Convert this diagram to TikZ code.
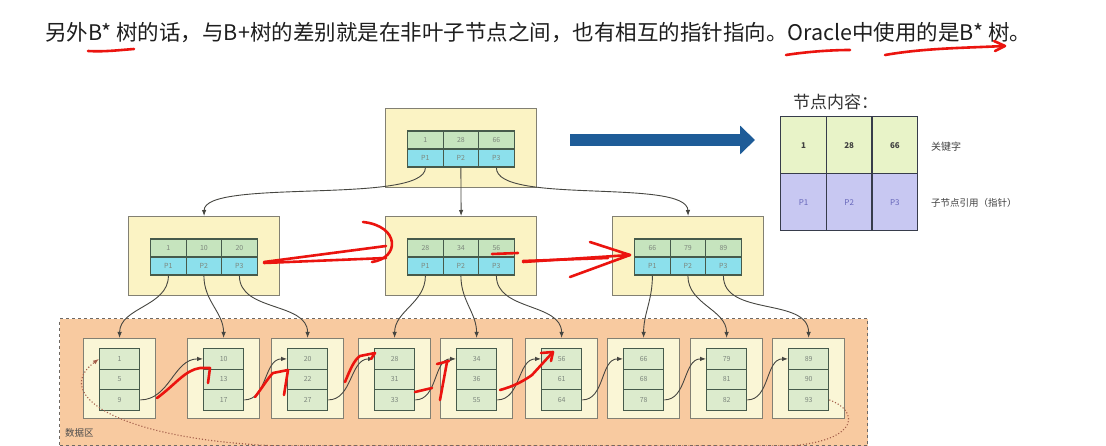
\documentclass[tikz,border=0pt]{standalone}
\usepackage{fontspec}
\setmainfont{Noto Sans CJK SC}
\usetikzlibrary{arrows.meta}

\definecolor{boxfill}{RGB}{251,243,196}
\definecolor{boxdraw}{RGB}{130,128,115}
\definecolor{keyfill}{RGB}{198,228,190}
\definecolor{ptrfill}{RGB}{140,224,236}
\definecolor{celldraw}{RGB}{70,90,75}
\definecolor{leaffill}{RGB}{250,246,214}
\definecolor{leafcell}{RGB}{220,235,205}
\definecolor{dataorange}{RGB}{248,202,160}
\definecolor{datadraw}{RGB}{110,105,100}
\definecolor{arrowblue}{RGB}{30,92,152}
\definecolor{legkey}{RGB}{232,243,200}
\definecolor{legptr}{RGB}{200,200,242}
\definecolor{legdraw}{RGB}{55,60,75}
\definecolor{annot}{RGB}{235,20,15}
\definecolor{connc}{RGB}{70,70,65}
\definecolor{loopc}{RGB}{165,95,75}
\definecolor{celltext}{RGB}{125,135,125}
\definecolor{maintext}{RGB}{30,30,30}

\tikzset{
  nbox/.style={draw=boxdraw, fill=boxfill, line width=1.2pt, anchor=north west,
    minimum width=151pt, minimum height=79pt, inner sep=0pt},
  kcell/.style={draw=celldraw, fill=keyfill, line width=1.3pt, anchor=north west,
    minimum width=35.5pt, minimum height=18pt, inner sep=0pt, text=celltext,
    font=\fontsize{7}{7}\selectfont},
  pcell/.style={kcell, fill=ptrfill},
  lbox/.style={draw=boxdraw, fill=leaffill, line width=1.2pt, anchor=north west,
    minimum width=72pt, minimum height=80pt, inner sep=0pt},
  lcell/.style={kcell, fill=leafcell, minimum width=40pt, minimum height=20.5pt},
  conn/.style={draw=connc, line width=0.9pt, -{Latex[length=6pt,width=4.5pt]}},
  redmark/.style={draw=annot, line width=2.6pt, line cap=round, line join=round},
  legk/.style={draw=legdraw, fill=legkey, line width=1.3pt, anchor=north west,
    minimum width=45.7pt, minimum height=57pt, inner sep=0pt,
    font=\fontsize{8}{8}\selectfont\bfseries, text=black!75},
  legp/.style={legk, fill=legptr, font=\fontsize{8}{8}\selectfont, text=black!45!blue!60},
}

\newcommand\treenode[6]{%
  \node[nbox] (#1) at (#2,#3) {};
  \node[kcell] (#1k1) at (#2+22,#3+22.5) {#4};
  \node[kcell] (#1k2) at (#2+57.5,#3+22.5) {#5};
  \node[kcell] (#1k3) at (#2+93,#3+22.5) {#6};
  \node[pcell] (#1p1) at (#2+22,#3+40.5) {P1};
  \node[pcell] (#1p2) at (#2+57.5,#3+40.5) {P2};
  \node[pcell] (#1p3) at (#2+93,#3+40.5) {P3};
}
\newcommand\leafnode[5]{%
  \node[lbox] (#1) at (#2,338) {};
  \node[lcell] (#1a) at (#2+16,348) {#3};
  \node[lcell] (#1b) at (#2+16,368.5) {#4};
  \node[lcell] (#1c) at (#2+16,389) {#5};
}

\begin{document}
\begin{tikzpicture}[x=1pt,y=-1pt]
\useasboundingbox (0,0) rectangle (1106,446);
\fill[white] (0,0) rectangle (1106,446);

% heading text
\node[anchor=west, inner sep=0pt, text=maintext, font=\fontsize{21.5}{21.5}\selectfont] (heading) at (45,33)
  {另外B* 树的话，与B+树的差别就是在非叶子节点之间，也有相互的指针指向。Oracle中使用的是B* 树。};
\draw[redmark] (88,51) .. controls (105,52) and (120,50) .. (134,49);
\draw[redmark] (786,55) .. controls (805,52) and (830,50) .. (850,50);
\draw[redmark] (885,55) .. controls (925,48) and (965,48) .. (1004,46);
\draw[redmark] (994,41) -- (1005,46) -- (995,51);

% data area
\node[draw=datadraw, dashed, line width=1.2pt, fill=dataorange, anchor=north west,
  minimum width=808pt, minimum height=127pt, inner sep=0pt] (data) at (59,318) {};
\node[anchor=west, inner sep=0pt, text=black!70, font=\fontsize{9.5}{9.5}\selectfont] (datalbl) at (65,433) {数据区};

% tree nodes
\treenode{R}{385}{108}{1}{28}{66}
\treenode{A}{128}{216}{1}{10}{20}
\treenode{B}{385}{216}{28}{34}{56}
\treenode{C}{612}{216}{66}{79}{89}

% leaves
\leafnode{La}{83}{1}{5}{9}
\leafnode{Lb}{187}{10}{13}{17}
\leafnode{Lc}{271}{20}{22}{27}
\leafnode{Ld}{358}{28}{31}{33}
\leafnode{Le}{440}{34}{36}{55}
\leafnode{Lf}{525}{56}{61}{64}
\leafnode{Lg}{607}{66}{68}{78}
\leafnode{Lh}{690}{79}{81}{82}
\leafnode{Li}{772}{89}{90}{93}

% root connectors
\draw[conn] (Rp1.south) .. controls (425,205) and (204,178) .. (A.north);
\draw[conn] (Rp2.south) -- (B.north);
\draw[conn] (Rp3.south) .. controls (496,205) and (687,178) .. (C.north);

% mid to leaves
\draw[conn] (Ap1.south) to[out=-90,in=90] (La.north);
\draw[conn] (Ap2.south) to[out=-90,in=90] (Lb.north);
\draw[conn] (Ap3.south) to[out=-90,in=90] (Lc.north);
\draw[conn] (Bp1.south) to[out=-90,in=90] (Ld.north);
\draw[conn] (Bp2.south) to[out=-90,in=90] (Le.north);
\draw[conn] (Bp3.south) to[out=-90,in=90] (Lf.north);
\draw[conn] (Cp1.south) to[out=-90,in=90] (Lg.north);
\draw[conn] (Cp2.south) to[out=-90,in=90] (Lh.north);
\draw[conn] (Cp3.south) to[out=-90,in=90] (Li.north);

% leaf chain
\draw[conn] (Lac.east) to[out=0,in=180] (Lba.west);
\draw[conn] (Lbc.east) to[out=0,in=180] (Lca.west);
\draw[conn] (Lcc.east) to[out=0,in=180] (Lda.west);
\draw[conn] (Ldc.east) to[out=0,in=180] (Lea.west);
\draw[conn] (Lec.east) to[out=0,in=180] (Lfa.west);
\draw[conn] (Lfc.east) to[out=0,in=180] (Lga.west);
\draw[conn] (Lgc.east) to[out=0,in=180] (Lha.west);
\draw[conn] (Lhc.east) to[out=0,in=180] (Lia.west);
\draw[loopc, dotted, line width=1.1pt, -{Latex[length=6pt,width=4.5pt]}]
  (Lic.east) .. controls (858,410) and (862,440) .. (790,446) -- (280,446)
  .. controls (120,440) and (50,395) .. (Laa.west);

% blue arrow
\coordinate (bluestart) at (570,140);
\coordinate (blueend) at (755,140);
\draw[arrowblue, line width=12pt, -{Triangle[length=15pt,width=28pt]}] (bluestart) -- (blueend);

% legend
\node[anchor=west, inner sep=0pt, text=black!80, font=\fontsize{17}{17}\selectfont] (legtitle) at (793,102) {节点内容：};
\node[legk] (g1) at (780,116) {1};
\node[legk] (g2) at (825.7,116) {28};
\node[legk] (g3) at (871.4,116) {66};
\node[legp] (h1) at (780,173) {P1};
\node[legp] (h2) at (825.7,173) {P2};
\node[legp] (h3) at (871.4,173) {P3};
\node[anchor=west, inner sep=0pt, text=black!75, font=\fontsize{10}{10}\selectfont] (lkey) at (931,147) {关键字};
\node[anchor=west, inner sep=0pt, text=black!75, font=\fontsize{9.5}{9.5}\selectfont] (lptr) at (931,203) {子节点引用（指针）};

% red annotations
\draw[redmark] (264,262) -- (386,246);
\draw[redmark] (264,263) -- (386,258);
\draw[redmark] (363,222) .. controls (400,226) and (400,258) .. (372,262);
\draw[redmark] (492,254) -- (518,253);
\draw[redmark] (523,262) -- (630,255);
\draw[redmark] (523,261) -- (608,258);
\draw[redmark] (590,242) -- (630,255) -- (570,277);

\draw[redmark] (157,398) .. controls (175,385) and (185,370) .. (200,368) -- (210,368) -- (208,383);
\draw[redmark] (255,397) .. controls (262,388) and (268,378) .. (273,373) -- (288,370) -- (284,395);
\draw[redmark] (345,382) .. controls (350,370) and (354,360) .. (360,356) -- (375,353) -- (371,359);
\draw[redmark] (415,392) -- (432,388);
\draw[redmark] (440,400) -- (447,362);
\draw[redmark] (437,364) -- (449,361);
\draw[redmark] (500,390) .. controls (515,386) and (525,380) .. (532,375) -- (553,352);
\draw[redmark] (541,353) -- (553,352) -- (551,361);
\end{tikzpicture}
\end{document}
